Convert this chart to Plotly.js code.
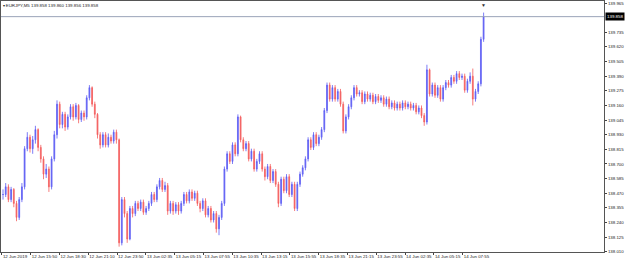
<!DOCTYPE html>
<html>
<head>
<meta charset="utf-8">
<script src="https://cdn.plot.ly/plotly-3.0.1.min.js"></script>
<style>html,body{margin:0;padding:0;background:#fff;}#chart{width:625px;height:262px;}</style>
</head>
<body>
<div id="chart"></div>
<script>
// EURJPY M5, one candle per 3 bars (15 minutes)
const closes = [
  138.46,138.52,138.42,138.50,138.39,138.28,138.42,138.52,138.82,138.91,
  138.82,138.89,138.97,138.83,138.74,138.62,138.66,138.52,138.74,138.93,
  139.17,139.01,139.09,138.99,139.07,139.15,139.07,139.16,139.05,139.10,
  139.07,139.22,139.30,139.17,139.09,138.93,138.85,138.93,138.85,138.91,
  138.88,138.95,138.89,138.08,138.42,138.31,138.11,138.35,138.31,138.39,
  138.35,138.40,138.32,138.35,138.39,138.46,138.42,138.52,138.57,138.50,
  138.53,138.33,138.39,138.33,138.38,138.33,138.39,138.46,138.41,138.48,
  138.43,138.47,138.39,138.35,138.41,138.30,138.35,138.26,138.31,138.19,
  138.28,138.39,138.66,138.78,138.72,138.85,138.78,139.07,138.89,138.82,
  138.86,138.74,138.80,138.66,138.72,138.78,138.66,138.60,138.68,138.57,
  138.64,138.54,138.39,138.58,138.49,138.60,138.46,138.54,138.35,138.54,
  138.62,138.67,138.74,138.89,138.83,138.93,138.86,138.91,138.97,139.12,
  139.32,139.21,139.30,139.21,139.27,139.17,138.96,139.07,139.15,139.22,
  139.30,139.25,139.26,139.19,139.25,139.21,139.24,139.19,139.23,139.20,
  139.22,139.17,139.21,139.15,139.18,139.14,139.17,139.14,139.18,139.15,
  139.17,139.14,139.16,139.11,139.14,139.08,139.03,139.44,139.25,139.32,
  139.24,139.30,139.21,139.30,139.34,139.32,139.38,139.35,139.41,139.38,
  139.39,139.28,139.35,139.39,139.21,139.27,139.33,139.68,139.858
];
const highs = [
  138.50,138.55,138.54,138.52,138.51,138.41,138.44,138.55,138.84,138.95,
  138.93,138.92,139.00,138.98,138.85,138.76,138.70,138.68,138.76,138.96,
  139.20,139.19,139.11,139.11,139.09,139.17,139.17,139.18,139.17,139.12,
  139.12,139.24,139.32,139.31,139.19,139.10,138.95,138.95,138.95,138.94,
  138.93,138.97,138.97,138.90,138.44,138.44,138.33,138.37,138.37,138.41,
  138.41,138.42,138.42,138.37,138.41,138.48,138.48,138.54,138.59,138.59,
  138.56,138.55,138.41,138.41,138.40,138.40,138.41,138.48,138.48,138.50,
  138.50,138.49,138.49,138.41,138.43,138.43,138.37,138.37,138.33,138.33,
  138.30,138.41,138.68,138.80,138.80,138.87,138.87,139.09,139.08,138.91,
  138.88,138.88,138.82,138.82,138.74,138.80,138.80,138.68,138.70,138.70,
  138.66,138.66,138.56,138.60,138.60,138.62,138.62,138.56,138.56,138.56,
  138.64,138.69,138.76,138.91,138.91,138.95,138.95,138.93,138.99,139.14,
  139.34,139.34,139.32,139.32,139.29,139.29,139.19,139.09,139.17,139.24,
  139.32,139.32,139.28,139.28,139.27,139.27,139.26,139.26,139.25,139.25,
  139.24,139.24,139.23,139.23,139.20,139.20,139.19,139.19,139.20,139.20,
  139.19,139.19,139.18,139.18,139.16,139.16,139.10,139.48,139.45,139.34,
  139.34,139.32,139.32,139.32,139.36,139.36,139.40,139.40,139.43,139.43,
  139.41,139.41,139.37,139.42,139.45,139.29,139.35,139.70,139.890
];
const lows = [
  138.42,138.44,138.40,138.40,138.36,138.25,138.26,138.40,138.50,138.80,
  138.79,138.78,138.86,138.80,138.71,138.58,138.59,138.48,138.50,138.72,
  138.90,138.98,138.98,138.96,138.97,139.05,139.04,139.05,139.02,139.03,
  139.04,139.05,139.20,139.15,139.06,138.90,138.82,138.83,138.83,138.83,
  138.86,138.86,138.86,138.05,138.06,138.28,138.08,138.10,138.28,138.29,
  138.33,138.33,138.30,138.30,138.33,138.37,138.40,138.40,138.50,138.48,
  138.48,138.30,138.31,138.30,138.31,138.30,138.31,138.37,138.39,138.39,
  138.41,138.41,138.37,138.32,138.33,138.28,138.28,138.24,138.24,138.16,
  138.14,138.26,138.37,138.64,138.70,138.70,138.76,138.76,138.87,138.80,
  138.80,138.72,138.72,138.64,138.64,138.70,138.64,138.57,138.58,138.55,
  138.55,138.52,138.36,138.37,138.47,138.47,138.44,138.44,138.33,138.33,
  138.52,138.60,138.65,138.72,138.81,138.81,138.84,138.84,138.89,138.95,
  139.10,139.19,139.19,139.19,139.19,139.15,138.94,138.94,139.05,139.13,
  139.20,139.23,139.23,139.17,139.17,139.19,139.19,139.17,139.17,139.18,
  139.18,139.15,139.15,139.13,139.13,139.12,139.12,139.12,139.12,139.13,
  139.13,139.12,139.12,139.09,139.09,139.06,139.00,139.01,139.23,139.23,
  139.22,139.22,139.19,139.19,139.28,139.30,139.30,139.33,139.33,139.36,
  139.36,139.26,139.26,139.33,139.16,139.19,139.25,139.31,139.66
];
const tickLabels = [
  '12 Jun 2019','12 Jun 15:50','12 Jun 18:30','12 Jun 21:10','12 Jun 23:50',
  '13 Jun 02:35','13 Jun 05:15','13 Jun 07:55','13 Jun 10:35','13 Jun 13:15',
  '13 Jun 15:55','13 Jun 18:35','13 Jun 21:15','13 Jun 23:55','14 Jun 02:35',
  '14 Jun 05:15','14 Jun 07:55'
];
const priceTicks = [
  139.965,139.735,139.620,139.505,139.390,139.275,139.160,139.045,138.930,
  138.815,138.700,138.585,138.470,138.355,138.240,138.125,138.010
];
const symbol = 'EURJPY,M5';
const lastBar = [139.858, 139.860, 139.856, 139.858];
const currentPrice = 139.858;

const BARS_PER_POINT = 3;
const BARS_PER_LABEL = 32;
const FIRST_TICK = -0.4;

const idx = closes.map((_, i) => i);
const opens = closes.map((c, i) => i === 0 ? c : closes[i - 1]);
const tickVals = tickLabels.map((_, k) => FIRST_TICK + k * BARS_PER_LABEL / BARS_PER_POINT);

const FONT = 'Liberation Sans, Arial, sans-serif';
const FS = 4.4;

const trace = {
  type: 'candlestick',
  x: idx, open: opens, high: highs, low: lows, close: closes,
  increasing: {line: {color: '#5c5cf4', width: 0.8}, fillcolor: '#6a6af6'},
  decreasing: {line: {color: '#f45c5c', width: 0.8}, fillcolor: '#f66a6a'},
  whiskerwidth: 0,
  hoverinfo: 'skip'
};

const layout = {
  width: 625, height: 262,
  margin: {l: 1, r: 21, t: 1, b: 10, pad: 0},
  paper_bgcolor: '#ffffff', plot_bgcolor: '#ffffff',
  showlegend: false,
  boxgap: 0.55,
  title: {
    text: '\u25BE ' + symbol + ' ' + lastBar.map(v => v.toFixed(3)).join(' '),
    x: 0.004, xanchor: 'left', xref: 'container',
    y: 0.981, yanchor: 'middle', yref: 'container',
    font: {family: FONT, size: FS, color: '#222'}
  },
  xaxis: {
    type: 'linear',
    range: [-0.741, 222.59],
    rangeslider: {visible: false},
    showgrid: false, zeroline: false,
    showline: true, mirror: true, linecolor: '#555', linewidth: 1,
    tickmode: 'array', tickvals: tickVals, ticktext: tickLabels,
    tickangle: 0,
    ticks: 'outside', ticklen: 2, tickcolor: '#444', tickwidth: 1,
    ticklabelposition: 'outside right',
    tickfont: {family: FONT, size: FS, color: '#222'},
    fixedrange: true
  },
  yaxis: {
    side: 'right',
    range: [138.008, 139.981],
    showgrid: false, zeroline: false,
    showline: true, mirror: true, linecolor: '#555', linewidth: 1,
    tickmode: 'array', tickvals: priceTicks, ticktext: priceTicks.map(v => v.toFixed(3)),
    ticks: 'outside', ticklen: 2, tickcolor: '#444', tickwidth: 1,
    tickfont: {family: FONT, size: FS, color: '#222'},
    fixedrange: true
  },
  shapes: [{
    type: 'line', xref: 'paper', yref: 'y', x0: 0, x1: 1,
    y0: currentPrice, y1: currentPrice,
    line: {color: '#9aa4b8', width: 1}
  }],
  annotations: [
    {
      xref: 'paper', yref: 'y', x: 1, y: currentPrice,
      xanchor: 'left', yanchor: 'middle', xshift: 1,
      text: currentPrice.toFixed(3), showarrow: false,
      bgcolor: '#000000', borderpad: 1,
      font: {family: FONT, size: FS, color: '#ffffff'}
    },
    {
      xref: 'x', yref: 'paper', x: idx[idx.length - 1], y: 1,
      xanchor: 'center', yanchor: 'top', yshift: 1,
      text: '\u25BC', showarrow: false,
      font: {family: FONT, size: 5, color: '#333'}
    }
  ]
};

Plotly.newPlot('chart', [trace], layout, {staticPlot: true, displayModeBar: false});
</script>
</body>
</html>
